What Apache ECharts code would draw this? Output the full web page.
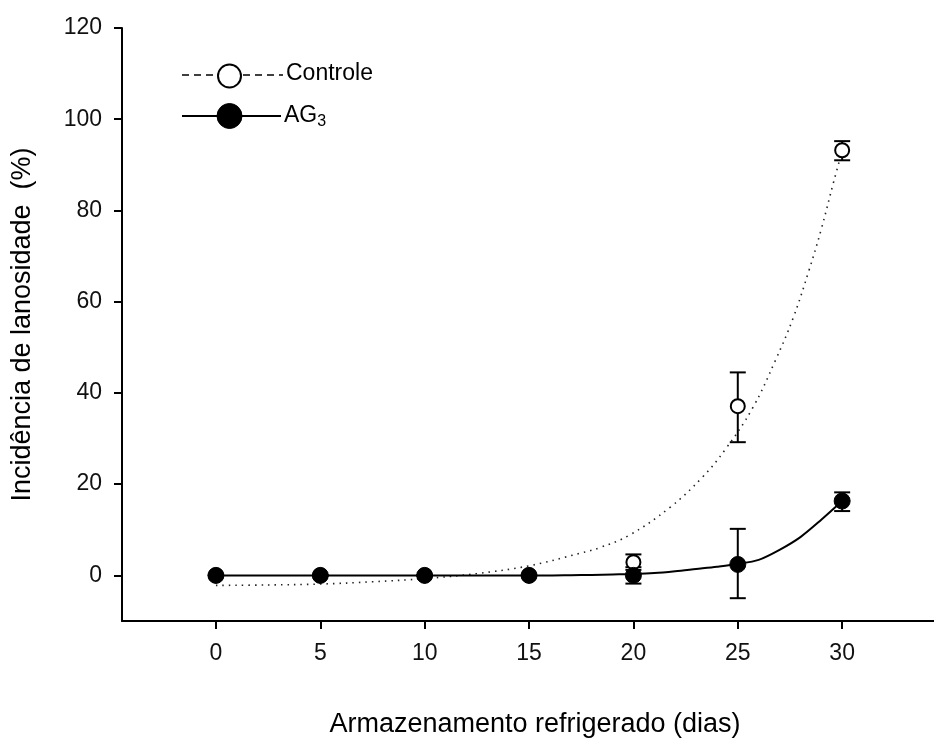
<!DOCTYPE html>
<html>
<head>
<meta charset="utf-8">
<script src="https://cdn.jsdelivr.net/npm/echarts@6/dist/echarts.min.js"></script>
<style>
html,body{margin:0;padding:0;background:#fff;}
#chart{width:934px;height:742px;}
</style>
</head>
<body>
<div id="chart"></div>
<script>
// ---- data ----
var days = [0, 5, 10, 15, 20, 25, 30];
var xTicks = [0, 5, 10, 15, 20, 25, 30];
var yTicks = [0, 20, 40, 60, 80, 100, 120];

var controleMean = [0, 0, 0, 0, 2.9, 37.1, 93.2];
var controleLow  = [0, 0, 0, 0, 1.2, 29.2, 91.0];
var controleHigh = [0, 0, 0, 0, 4.6, 44.5, 95.2];

var ag3Mean = [0, 0, 0, 0, 0, 2.4, 16.3];
var ag3Low  = [0, 0, 0, 0, -1.8, -5.0, 14.1];
var ag3High = [0, 0, 0, 0, 1.8, 10.2, 18.2];

// fitted curves
var controleFitX = [0, 2.5, 5, 7.5, 10, 12.5, 15, 17.4, 18.4, 19.8, 21.75, 23.3, 24.4, 25.7, 26.8, 27.65, 28.4, 29.0, 29.6, 30];
var controleFitY = [-2.2, -2.1, -1.9, -1.4, -0.7, 0.4, 2.1, 4.8, 6.1, 8.8, 14.9, 21.5, 27.6, 36.6, 47.1, 56.4, 66.7, 75.9, 86.4, 93.0];
var ag3FitX = [0, 5, 10, 15, 16, 17, 18, 19, 20, 21, 22, 23, 24, 25, 26, 27, 28, 29, 30];
var ag3FitY = [0, 0, 0, 0, 0, 0.05, 0.1, 0.2, 0.3, 0.5, 0.9, 1.4, 1.9, 2.5, 3.4, 5.6, 8.4, 12.2, 16.3];

var seriesNames = ['Controle', 'AG'];
var xTitle = 'Armazenamento refrigerado (dias)';
var yTitle = 'Incidência de lanosidade  (%)';

// ---- build ----
function pairs(xs, ys) { return xs.map(function (x, i) { return [x, ys[i]]; }); }
function errData(lo, hi) { return days.map(function (d, i) { return [d, lo[i], hi[i]]; }); }

function errRender(params, api) {
  var x = api.value(0);
  var lo = api.coord([x, api.value(1)]);
  var hi = api.coord([x, api.value(2)]);
  var w = 8;
  var style = { stroke: '#000', lineWidth: 2 };
  return {
    type: 'group',
    children: [
      { type: 'line', shape: { x1: lo[0], y1: lo[1], x2: hi[0], y2: hi[1] }, style: style },
      { type: 'line', shape: { x1: lo[0] - w, y1: lo[1], x2: lo[0] + w, y2: lo[1] }, style: style },
      { type: 'line', shape: { x1: hi[0] - w, y1: hi[1], x2: hi[0] + w, y2: hi[1] }, style: style }
    ]
  };
}

var FONT = '"Liberation Sans", Arial, sans-serif';
var chart = echarts.init(document.getElementById('chart'), null, { renderer: 'canvas' });

var option = {
  animation: false,
  backgroundColor: '#fff',
  grid: { left: 122, top: 28, right: 0, bottom: 121, containLabel: false, outerBoundsMode: 'none' },
  xAxis: {
    type: 'value', min: -4.5, max: 34.4,
    splitLine: { show: false },
    axisLine: { show: true, onZero: false, lineStyle: { color: '#000', width: 2 } },
    axisTick: { show: true, length: 8, customValues: xTicks, lineStyle: { color: '#000', width: 2 } },
    axisLabel: { customValues: xTicks, margin: 21, color: '#111', fontSize: 23, fontFamily: FONT },
    name: xTitle, nameLocation: 'middle', nameGap: 90,
    nameTextStyle: { color: '#000', fontSize: 27, fontFamily: FONT, padding: [0, 0, 0, 14] }
  },
  yAxis: {
    type: 'value', min: -10, max: 120,
    splitLine: { show: false },
    axisLine: { show: true, onZero: false, lineStyle: { color: '#000', width: 2 } },
    axisTick: { show: true, length: 8, customValues: yTicks, lineStyle: { color: '#000', width: 2 } },
    axisLabel: { customValues: yTicks, margin: 20, color: '#111', fontSize: 23, fontFamily: FONT },
    name: yTitle, nameLocation: 'middle', nameGap: 86, nameRotate: 90,
    nameTextStyle: { color: '#000', fontSize: 27, fontFamily: FONT }
  },
  series: [
    {
      name: 'controleFit', type: 'line', smooth: 0.4, showSymbol: false, silent: true,
      data: pairs(controleFitX, controleFitY),
      lineStyle: { color: '#222', width: 1.6, type: [1.5, 5] }, z: 1
    },
    {
      name: 'ag3Fit', type: 'line', smooth: 0.3, showSymbol: false, silent: true,
      data: pairs(ag3FitX, ag3FitY),
      lineStyle: { color: '#000', width: 2, type: 'solid' }, z: 1
    },
    {
      name: 'controleErr', type: 'custom', renderItem: errRender,
      data: errData(controleLow, controleHigh), z: 2
    },
    {
      name: 'ag3Err', type: 'custom', renderItem: errRender,
      data: errData(ag3Low, ag3High), z: 2
    },
    {
      name: seriesNames[0], type: 'scatter', symbol: 'circle', symbolSize: 14,
      data: pairs(days, controleMean),
      itemStyle: { color: '#fff', borderColor: '#000', borderWidth: 2, opacity: 1 }, z: 3
    },
    {
      name: seriesNames[1], type: 'scatter', symbol: 'circle', symbolSize: 16,
      data: pairs(days, ag3Mean),
      itemStyle: { color: '#000', borderColor: '#000', borderWidth: 1, opacity: 1 }, z: 4
    }
  ],
  graphic: [
    // legend: Controle
    { type: 'line', shape: { x1: 182, y1: 75, x2: 217, y2: 75 }, style: { stroke: '#000', lineWidth: 1.5, lineDash: [7, 5] } },
    { type: 'circle', shape: { cx: 229.5, cy: 76, r: 11.5 }, style: { fill: '#fff', stroke: '#000', lineWidth: 2 } },
    { type: 'line', shape: { x1: 243, y1: 75, x2: 283, y2: 75 }, style: { stroke: '#000', lineWidth: 1.5, lineDash: [7, 5] } },
    { type: 'text', left: 286, top: 62, style: { text: seriesNames[0], fill: '#000', font: '23px ' + FONT } },
    // legend: AG3
    { type: 'line', shape: { x1: 182, y1: 116, x2: 281, y2: 116 }, style: { stroke: '#000', lineWidth: 2 } },
    { type: 'circle', shape: { cx: 229.5, cy: 116, r: 12.5 }, style: { fill: '#000', stroke: '#000', lineWidth: 1 } },
    { type: 'text', left: 284, top: 104, style: {
        text: seriesNames[1] + '{sub|3}', fill: '#000', font: '23px ' + FONT,
        rich: { sub: { fontSize: 16, fontFamily: FONT, fill: '#000', padding: [12, 0, 0, 0] } }
    } }
  ]
};
chart.setOption(option);
</script>
</body>
</html>
